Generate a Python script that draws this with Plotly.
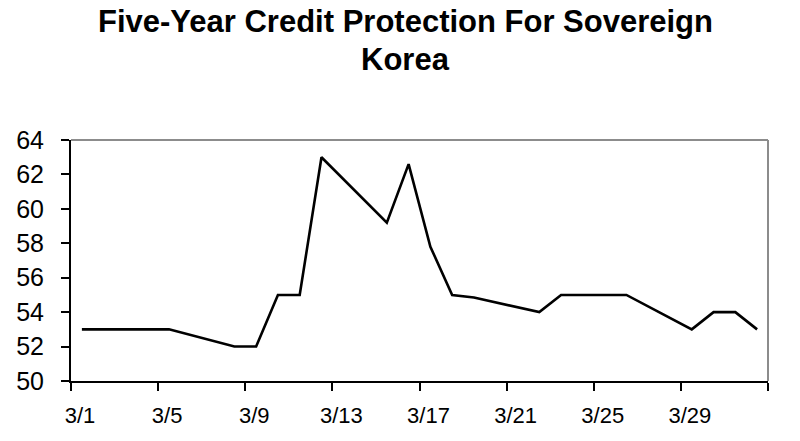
import plotly.graph_objects as go

# Data (March 2004 business days + 4/1)
dates = ["2004-03-01", "2004-03-02", "2004-03-03", "2004-03-04", "2004-03-05",
         "2004-03-08", "2004-03-09", "2004-03-10", "2004-03-11", "2004-03-12",
         "2004-03-15", "2004-03-16", "2004-03-17", "2004-03-18", "2004-03-19",
         "2004-03-22", "2004-03-23", "2004-03-24", "2004-03-25", "2004-03-26",
         "2004-03-29", "2004-03-30", "2004-03-31", "2004-04-01"]
spread = [53, 53, 53, 53, 53,
          52, 52, 55, 55, 63,
          59.2, 62.6, 57.8, 55, 54.85,
          54, 55, 55, 55, 55,
          53, 54, 54, 53]

tick_positions = ["2004-02-29 12:00", "2004-03-04 12:00", "2004-03-08 12:00",
                  "2004-03-12 12:00", "2004-03-16 12:00", "2004-03-20 12:00",
                  "2004-03-24 12:00", "2004-03-28 12:00", "2004-04-01 12:00"]
tick_labels = ["3/1", "3/5", "3/9", "3/13", "3/17", "3/21", "3/25", "3/29", ""]

y_ticks = [50, 52, 54, 56, 58, 60, 62, 64]

title_lines = ["Five-Year Credit Protection For Sovereign", "Korea"]

fig = go.Figure()
fig.add_trace(go.Scatter(
    x=dates, y=spread, mode="lines",
    line=dict(color="black", width=2.6),
    hoverinfo="x+y", showlegend=False,
))

font_fam = "Liberation Sans, Arial, sans-serif"

fig.update_layout(
    width=800, height=441,
    paper_bgcolor="white", plot_bgcolor="white",
    margin=dict(l=71, r=32, t=140, b=60),
    xaxis=dict(
        type="date",
        range=["2004-02-29 12:00", "2004-04-01 12:00"],
        tickmode="array", tickvals=tick_positions, ticktext=tick_labels,
        ticks="outside", ticklen=8, tickwidth=2, tickcolor="black",
        ticklabelshift=9, ticklabelstandoff=6,
        showline=True, linecolor="black", linewidth=2,
        showgrid=False, zeroline=False,
        tickfont=dict(family=font_fam, size=22, color="black"),
    ),
    yaxis=dict(
        range=[50, 64],
        tickmode="array", tickvals=y_ticks,
        ticks="outside", ticklen=8, tickwidth=2, tickcolor="black",
        ticklabelstandoff=12,
        showline=True, linecolor="black", linewidth=2,
        showgrid=False, zeroline=False,
        tickfont=dict(family=font_fam, size=25, color="black"),
    ),
    shapes=[
        dict(type="line", xref="paper", yref="paper", x0=0, x1=1, y0=1, y1=1,
             line=dict(color="#8c8c8c", width=2)),
        dict(type="line", xref="paper", yref="paper", x0=1, x1=1, y0=0, y1=1,
             line=dict(color="#8c8c8c", width=2)),
    ],
    annotations=[
        dict(text="<b>%s</b>" % title_lines[0], xref="paper", yref="paper",
             x=0.48, y=1.49, xanchor="center", yanchor="middle", showarrow=False,
             font=dict(family=font_fam, size=31, color="black")),
        dict(text="<b>%s</b>" % title_lines[1], xref="paper", yref="paper",
             x=0.48, y=1.335, xanchor="center", yanchor="middle", showarrow=False,
             font=dict(family=font_fam, size=31, color="black")),
    ],
)

fig.write_html("out.html", config={"displayModeBar": False},
               post_script="document.body.style.margin='0';")
